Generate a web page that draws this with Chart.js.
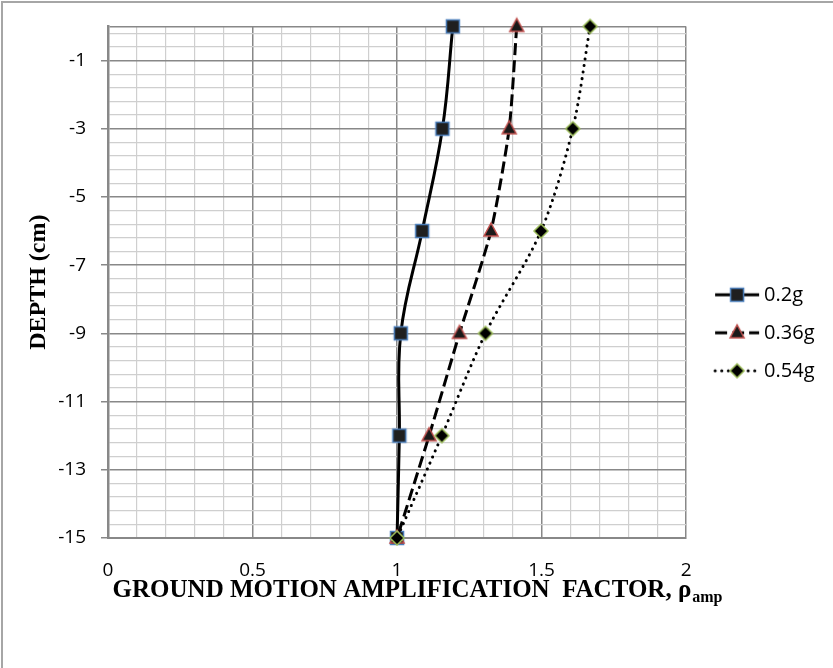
<!DOCTYPE html>
<html>
<head>
<meta charset="utf-8">
<title>Ground motion amplification factor vs depth</title>
<script src="https://cdn.jsdelivr.net/npm/chart.js@4.4.1/dist/chart.umd.min.js"></script>
<style>
  html, body { margin: 0; padding: 0; background: #fff; }
  #chart { display: block; }
</style>
</head>
<body>
<canvas id="chart" width="833" height="668"></canvas>
<script>
// depth of the measuring points (cm)
var depth = [0, -3, -6, -9, -12, -15];
// amplification factor at each depth, one list per input acceleration
var amp02 = [1.193, 1.157, 1.087, 1.013, 1.008, 1.0];
var amp036 = [1.414, 1.388, 1.325, 1.216, 1.111, 1.0];
var amp054 = [1.668, 1.608, 1.498, 1.306, 1.155, 1.0];
var seriesNames = ["0.2g", "0.36g", "0.54g"];

// axes
var xMin = 0, xMax = 2;
var xMajorTicks = [0, 0.5, 1, 1.5, 2];
var xMinorStep = 0.1;
var yMin = -15, yMax = 0;
var yMajorTicks = [-15, -13, -11, -9, -7, -5, -3, -1];
var yMinorStep = 0.4;

var majorGrid = "#888888";
var minorGrid = "#cfcfcf";

(function () {
    "use strict";

    function stepTicks(min, max, step) {
        var out = [];
        for (var v = min; v <= max + 1e-9; v += step) {
            out.push(Math.round(v * 100) / 100);
        }
        if (out[out.length - 1] !== max) out.push(max);
        return out;
    }

    function isMajor(list, v) {
        return list.some(function (m) { return Math.abs(m - v) < 1e-6; });
    }

    function toPoints(values) {
        return depth.map(function (d, i) { return { x: values[i], y: d }; });
    }

    var xTicks = stepTicks(xMin, xMax, xMinorStep);
    var yTicks = stepTicks(yMin, yMax, yMinorStep);

    // markers, same shapes in the plot and the legend
    function drawSquare(g, x, y) {
        g.fillStyle = "#1f1f1f"; g.strokeStyle = "#4a7ebb"; g.lineWidth = 1.5;
        g.beginPath(); g.rect(x - 6.5, y - 6.5, 13, 13); g.fill(); g.stroke();
    }
    function drawTriangle(g, x, y) {
        g.fillStyle = "#1a1a1a"; g.strokeStyle = "#c0504d"; g.lineWidth = 1.5;
        g.beginPath(); g.moveTo(x, y - 8); g.lineTo(x + 7, y + 5); g.lineTo(x - 7, y + 5);
        g.closePath(); g.fill(); g.stroke();
    }
    function drawDiamond(g, x, y) {
        g.fillStyle = "#000000"; g.strokeStyle = "#9bbb59"; g.lineWidth = 1.5;
        g.beginPath(); g.moveTo(x, y - 7); g.lineTo(x + 7, y); g.lineTo(x, y + 7); g.lineTo(x - 7, y);
        g.closePath(); g.fill(); g.stroke();
    }

    function markerImage(marker) {
        var c = document.createElement("canvas");
        c.width = 20; c.height = 20;
        marker(c.getContext("2d"), 10, 10);
        return c;
    }

    // legend symbol: a short piece of line with the marker in the middle
    function legendIcon(dash, cap, marker) {
        var c = document.createElement("canvas");
        c.width = 62; c.height = 22;
        var g = c.getContext("2d");
        g.strokeStyle = "#000"; g.lineWidth = 3; g.lineCap = cap;
        g.setLineDash(dash);
        g.beginPath(); g.moveTo(17, 11); g.lineTo(61, 11); g.stroke();
        g.setLineDash([]);
        marker(g, 39, 11);
        return c;
    }
    var icons = [
        legendIcon([], "butt", drawSquare),
        legendIcon([12, 5], "butt", drawTriangle),
        legendIcon([0.1, 6.5], "round", drawDiamond),
    ];

    var frame = {
        id: "frame",
        beforeDraw: function (chart) {
            var g = chart.ctx;
            g.save();
            g.fillStyle = "#fff";
            g.fillRect(0, 0, chart.width, chart.height);
            g.strokeStyle = "#a6a6a6"; g.lineWidth = 2;
            g.beginPath(); g.moveTo(2, chart.height); g.lineTo(2, 2); g.lineTo(chart.width, 2); g.stroke();
            g.restore();
        },
    };

    // x title has a subscript, so it is drawn here
    var xTitle = {
        id: "xTitle",
        afterDraw: function (chart) {
            var g = chart.ctx, a = chart.chartArea;
            var main = "GROUND MOTION AMPLIFICATION  FACTOR, \u03c1", sub = "amp";
            g.save();
            g.fillStyle = "#000";
            g.textAlign = "left";
            g.textBaseline = "alphabetic";
            g.font = "bold 25px 'Liberation Serif', serif";
            var w1 = g.measureText(main).width;
            g.font = "bold 16px 'Liberation Serif', serif";
            var w2 = g.measureText(sub).width;
            var x0 = (a.left + a.right) / 2 + 20 - (w1 + w2) / 2;
            var base = a.bottom + 59;
            g.font = "bold 25px 'Liberation Serif', serif";
            g.fillText(main, x0, base);
            g.font = "bold 16px 'Liberation Serif', serif";
            g.fillText(sub, x0 + w1 + 1, base + 5);
            g.restore();
        },
    };

    var ctx = document.getElementById("chart").getContext("2d");
    var myChart = new Chart(ctx, {
        type: "scatter",
        data: {
            datasets: [
                {
                    label: seriesNames[0],
                    data: toPoints(amp02),
                    showLine: true,
                    tension: 0.4,
                    borderColor: "#000",
                    borderWidth: 3,
                    pointStyle: markerImage(drawSquare),
                    clip: false,
                    order: 3,
                },
                {
                    label: seriesNames[1],
                    data: toPoints(amp036),
                    showLine: true,
                    tension: 0.2,
                    borderColor: "#000",
                    borderWidth: 3,
                    borderDash: [12, 5],
                    pointStyle: markerImage(drawTriangle),
                    clip: false,
                    order: 2,
                },
                {
                    label: seriesNames[2],
                    data: toPoints(amp054),
                    showLine: true,
                    tension: 0.3,
                    borderColor: "#000",
                    borderWidth: 3,
                    borderDash: [0.1, 6.5],
                    borderCapStyle: "round",
                    pointStyle: markerImage(drawDiamond),
                    clip: false,
                    order: 1,
                },
            ],
        },
        options: {
            responsive: false,
            animation: false,
            events: [],
            layout: { padding: { top: 23.6, right: 8.5, bottom: 26, left: 0 } },
            scales: {
                x: {
                    type: "linear",
                    min: xMin,
                    max: xMax,
                    afterBuildTicks: function (scale) {
                        scale.ticks = xTicks.map(function (v) { return { value: v }; });
                    },
                    afterFit: function (scale) { scale.height = 104; },
                    ticks: {
                        autoSkip: false,
                        maxRotation: 0,
                        color: "#000",
                        font: { family: "'Open Sans', sans-serif", size: 19 },
                        padding: 13,
                        callback: function (v) { return isMajor(xMajorTicks, v) ? String(v) : ""; },
                    },
                    grid: {
                        color: function (c) { return isMajor(xMajorTicks, c.tick.value) ? majorGrid : minorGrid; },
                        lineWidth: function (c) { return isMajor(xMajorTicks, c.tick.value) ? 1.5 : 1.2; },
                        tickColor: "rgba(0,0,0,0)",
                        tickLength: 8,
                    },
                    border: { color: majorGrid, width: 2 },
                },
                y: {
                    type: "linear",
                    min: yMin,
                    max: yMax,
                    afterBuildTicks: function (scale) {
                        scale.ticks = yTicks.map(function (v) { return { value: v }; });
                    },
                    afterFit: function (scale) { scale.width = 108; },
                    ticks: {
                        autoSkip: false,
                        color: "#000",
                        font: { family: "'Open Sans', sans-serif", size: 19 },
                        padding: 15,
                        callback: function (v) { return isMajor(yMajorTicks, v) ? String(v) : ""; },
                    },
                    grid: {
                        color: function (c) {
                            return isMajor(yMajorTicks, c.tick.value) || c.tick.value === yMax ? majorGrid : minorGrid;
                        },
                        lineWidth: function (c) {
                            return isMajor(yMajorTicks, c.tick.value) || c.tick.value === yMax ? 1.5 : 1.2;
                        },
                        tickColor: function (c) {
                            return isMajor(yMajorTicks, c.tick.value) ? majorGrid : "rgba(0,0,0,0)";
                        },
                        tickLength: 7,
                    },
                    border: { color: majorGrid, width: 2.5 },
                    title: {
                        display: true,
                        text: "DEPTH (cm)",
                        color: "#000",
                        font: { family: "'Liberation Serif', serif", size: 24, weight: "bold" },
                        padding: { top: 24, bottom: 0 },
                    },
                },
            },
            plugins: {
                tooltip: { enabled: false },
                legend: {
                    position: "right",
                    labels: {
                        usePointStyle: true,
                        pointStyleWidth: 50,
                        padding: 18,
                        color: "#000",
                        font: { family: "'Open Sans', sans-serif", size: 20 },
                        sort: function (a, b) { return a.datasetIndex - b.datasetIndex; },
                        generateLabels: function (chart) {
                            var items = Chart.defaults.plugins.legend.labels.generateLabels(chart);
                            items.forEach(function (it) { it.pointStyle = icons[it.datasetIndex]; });
                            return items;
                        },
                    },
                },
            },
        },
        plugins: [frame, xTitle],
    });
})();
</script>
</body>
</html>
